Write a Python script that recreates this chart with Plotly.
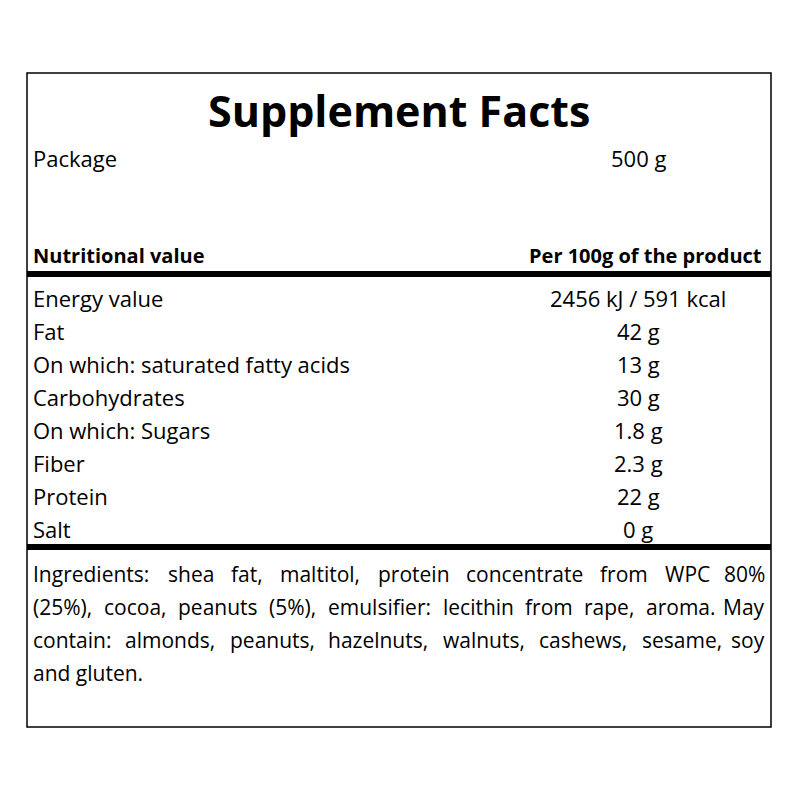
import plotly.graph_objects as go

title = "Supplement Facts"
package_label, package_value = "Package", "500 g"
header_left, header_right = "Nutritional value", "Per 100g of the product"
nutrients = ["Energy value", "Fat", "On which: saturated fatty acids", "Carbohydrates",
             "On which: Sugars", "Fiber", "Protein", "Salt"]
amounts = ["2456 kJ / 591 kcal", "42 g", "13 g", "30 g", "1.8 g", "2.3 g", "22 g", "0 g"]
ingredient_lines = [
    "Ingredients: shea fat, maltitol, protein concentrate from WPC 80%",
    "(25%), cocoa, peanuts (5%), emulsifier: lecithin from rape, aroma. May",
    "contain: almonds, peanuts, hazelnuts, walnuts, cashews, sesame, soy",
    "and gluten.",
]

FONT = "Open Sans"
O = 8  # page body offset
fig = go.Figure()
shapes, ann = [], []
L, R, T, B = 27, 771, 73, 727
shapes.append(dict(type="rect", x0=L, x1=R, y0=T, y1=B, line=dict(color="black", width=1.5)))

def line(y, w):
    shapes.append(dict(type="line", x0=L, x1=R, y0=y, y1=y, line=dict(color="black", width=w)))

def text(x, y, s, size=22, anchor="left", bold=False):
    ann.append(dict(x=x, y=y, text=f"<b>{s}</b>" if bold else s, showarrow=False,
                    xanchor=anchor, yanchor="middle", font=dict(family=FONT, size=size, color="black")))

CW = {'a': .556, 'b': .613, 'c': .48, 'd': .613, 'e': .561, 'f': .336, 'g': .546, 'h': .615,
      'i': .258, 'j': .258, 'k': .53, 'l': .258, 'm': .935, 'n': .615, 'o': .602, 'p': .613,
      'q': .613, 'r': .408, 's': .479, 't': .352, 'u': .615, 'v': .5, 'w': .798, 'x': .51,
      'y': .5, 'z': .473, '.': .266, ',': .27, ':': .266, '(': .296, ')': .296, '%': .827,
      'W': .925, 'P': .603, 'C': .631, 'M': .931, 'I': .34}

def wwidth(w, size):
    return sum(CW.get(c, .572) for c in w) * size

text(399, 110, title, size=43, anchor="center", bold=True)
text(31, 158, package_label)
text(638, 158, package_value, anchor="center")
text(31, 255, header_left, size=20, bold=True)
text(764, 255, header_right, size=20, anchor="right", bold=True)
line(274, 6)
y0, dy = 298, 33
for i, (n, a) in enumerate(zip(nutrients, amounts)):
    y = y0 + i * dy
    text(31, y, n)
    text(638, y, a, anchor="center")
line(547, 6)
fs = 21
for i, s in enumerate(ingredient_lines):
    y = 574 + i * 33
    words = s.split(" ")
    if i == len(ingredient_lines) - 1:
        text(31, y, s, size=fs)
        continue
    widths = [wwidth(w, fs) for w in words]
    gap = (767 - 31 - sum(widths)) / (len(words) - 1)
    x = 31
    for j, (w, wd) in enumerate(zip(words, widths)):
        if j == len(words) - 1:
            text(767, y, w, size=fs, anchor="right")
        else:
            text(x, y, w, size=fs)
        x += wd + gap

fig.update_layout(shapes=shapes, annotations=ann, width=800, height=800,
                  margin=dict(l=0, r=0, t=0, b=0), plot_bgcolor="white", paper_bgcolor="white",
                  xaxis=dict(range=[O, 800 + O], visible=False, fixedrange=True),
                  yaxis=dict(range=[800 + O, O], visible=False, fixedrange=True), showlegend=False)
fig.write_html("out.html")
